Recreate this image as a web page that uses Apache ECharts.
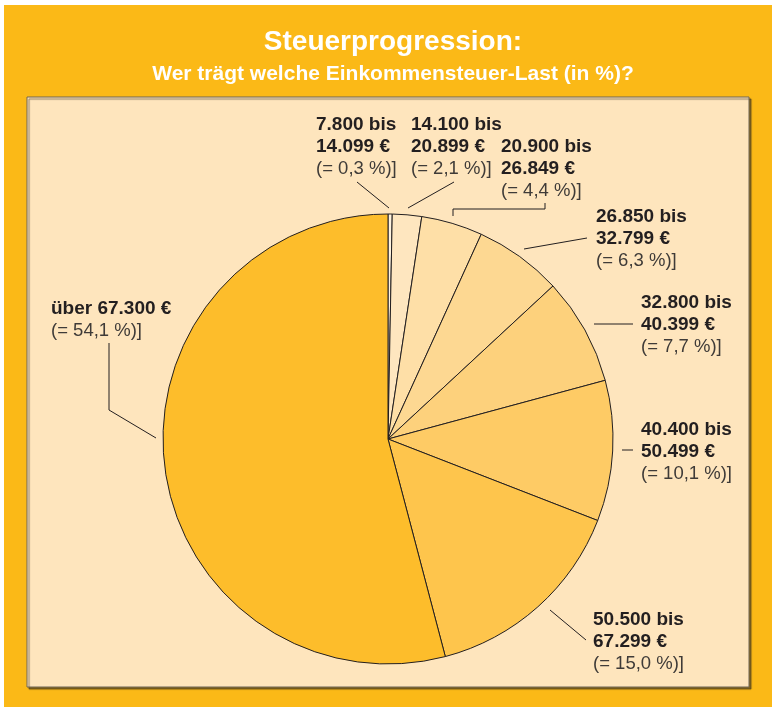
<!DOCTYPE html>
<html>
<head>
<meta charset="utf-8">
<script src="https://cdn.jsdelivr.net/npm/echarts@6/dist/echarts.min.js"></script>
<style>
  html, body { margin: 0; padding: 0; background: #ffffff; }
  #chart { width: 772px; height: 707px; }
</style>
</head>
<body>
<div id="chart"></div>
<script>
// Steuerprogression — share of income-tax burden per income bracket
var brackets = [
  ["7.800 bis", "14.099 €"],
  ["14.100 bis", "20.899 €"],
  ["20.900 bis", "26.849 €"],
  ["26.850 bis", "32.799 €"],
  ["32.800 bis", "40.399 €"],
  ["40.400 bis", "50.499 €"],
  ["50.500 bis", "67.299 €"],
  ["über 67.300 €"]
];
var shares = [0.3, 2.1, 4.4, 6.3, 7.7, 10.1, 15.0, 54.1];
var shareLabels = ["0,3", "2,1", "4,4", "6,3", "7,7", "10,1", "15,0", "54,1"];

// slice fills, lightest to darkest
var colors = ["#fff3de", "#fee6bf", "#fedfa7", "#fdd892", "#fdd17c", "#fecb65", "#fec54c", "#fdbd2b"];

// label placement (top-left of each text block) and leader lines
var labelPos = [
  [316, 114], [411, 114], [501, 136], [596, 206],
  [641, 292], [641, 419], [593, 609], [51, 298]
];
var leaderLines = [
  [[389, 208], [357, 182]],
  [[408, 208], [454, 182]],
  [[453, 216], [453, 209], [545, 209], [545, 203]],
  [[524, 249], [587, 238]],
  [[594, 324], [633, 324]],
  [[622, 450], [633, 450]],
  [[550, 610], [586, 640]],
  [[156, 438], [109, 410], [109, 343]]
];

var FONT = '"Liberation Sans", Arial, Helvetica, sans-serif';
var NARROW = '"Liberation Sans Narrow", "Liberation Sans", Arial, sans-serif';

var chart = echarts.init(document.getElementById("chart"), null, { renderer: "canvas" });

var pieData = shares.map(function (v, i) {
  return {
    value: v,
    name: brackets[i].join(" "),
    itemStyle: { color: colors[i] }
  };
});

chart.setOption({
  animation: false,
  backgroundColor: "#ffffff",
  graphic: [
    { type: "rect", z: -10, shape: { x: 4, y: 5, width: 768, height: 702 }, style: { fill: "#fbb917" } },
    { type: "rect", z: -9, shape: { x: 27, y: 97, width: 722, height: 590 },
      style: { fill: "#fee5bd", stroke: "#6e6454", lineWidth: 1,
               shadowColor: "rgba(60,50,30,0.6)", shadowOffsetX: 2, shadowOffsetY: 2, shadowBlur: 1 } }
  ],
  title: [
    { text: "Steuerprogression:", left: 388, top: 23, textAlign: "center",
      textStyle: { color: "#ffffff", fontFamily: NARROW, fontWeight: "bold", fontSize: 28 } },
    { text: "Wer trägt welche Einkommensteuer-Last (in %)?", left: 388, top: 59, textAlign: "center",
      textStyle: { color: "#ffffff", fontFamily: NARROW, fontWeight: "bold", fontSize: 21 } }
  ],
  series: [{
    type: "pie",
    center: [388, 439],
    radius: 225,
    startAngle: 90,
    clockwise: true,
    avoidLabelOverlap: false,
    itemStyle: { borderColor: "#231f20", borderWidth: 1 },
    emphasis: { disabled: true },
    data: pieData,
    label: {
      show: true,
      position: "outside",
      fontFamily: FONT,
      formatter: function (p) {
        var b = brackets[p.dataIndex].map(function (s) { return "{b|" + s + "}"; });
        b.push("{p|(= " + shareLabels[p.dataIndex] + " %)]}");
        return b.join("\n");
      },
      rich: {
        b: { fontFamily: FONT, fontWeight: "bold", fontSize: 19, lineHeight: 22, color: "#231f20" },
        p: { fontFamily: FONT, fontSize: 18.5, lineHeight: 22, color: "#3f3b38" }
      }
    },
    labelLine: {
      show: true,
      lineStyle: { color: "#231f20", width: 1 }
    },
    labelLayout: function (params) {
      var i = params.dataIndex;
      return {
        x: labelPos[i][0],
        y: labelPos[i][1],
        align: "left",
        verticalAlign: "top",
        labelLinePoints: leaderLines[i]
      };
    }
  }]
});
</script>
</body>
</html>
